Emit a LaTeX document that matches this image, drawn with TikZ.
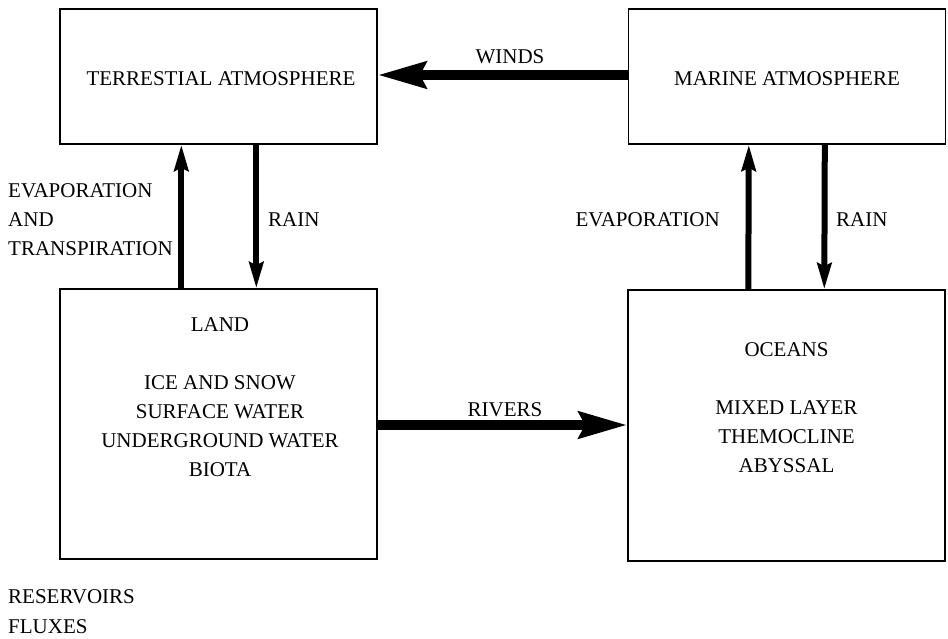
\documentclass[tikz,border=0pt]{standalone}
\usepackage{fontspec}
\setmainfont{Liberation Serif}
\usetikzlibrary{arrows.meta}
\tikzset{
  reservoir/.style={draw, line width=1.4pt, inner sep=0pt},
  lbl/.style={font=\fontsize{21}{29}\selectfont, inner sep=0pt},
  bigflux/.style={line width=10pt, -{Stealth[length=48pt,width=26pt,inset=6pt]}},
  smallflux/.style={line width=6pt, -{Stealth[length=26pt,width=14pt,inset=3pt]}},
}
\begin{document}
\begin{tikzpicture}[x=1pt,y=-1pt]
\useasboundingbox (0,0) rectangle (948,639);

% reservoirs
\node[reservoir, minimum width=317pt, minimum height=135pt] (ta) at (218.5,76.5) {};
\node[reservoir, minimum width=317pt, minimum height=135pt] (ma) at (787,76.5) {};
\node[reservoir, minimum width=317pt, minimum height=270pt] (land) at (218.5,424) {};
\node[reservoir, minimum width=317pt, minimum height=271pt] (oc) at (786.5,425.5) {};

\node[lbl] (tat) at (221,79) {TERRESTIAL ATMOSPHERE};
\node[lbl] (mat) at (787,79) {MARINE ATMOSPHERE};
\node[lbl] (landt) at (220,325) {LAND};
\node[lbl, align=center] (landl) at (220,426.5) {ICE AND SNOW\\SURFACE WATER\\UNDERGROUND WATER\\BIOTA};
\node[lbl] (oct) at (786.5,350) {OCEANS};
\node[lbl, align=center] (ocl) at (786.5,436.5) {MIXED LAYER\\THEMOCLINE\\ABYSSAL};

% fluxes
\draw[bigflux] (ma.west |- 0,75) -- (ta.east |- 0,75);
\node[lbl] (winds) at (510,57) {WINDS};
\draw[bigflux] (land.east |- 0,425) -- (oc.west |- 0,425);
\node[lbl] (rivers) at (505,410) {RIVERS};

\draw[smallflux] ([xshift=122pt]land.north west) -- ([xshift=122pt]ta.south west);
\draw[smallflux] ([xshift=197pt]ta.south west) -- ([xshift=197pt]land.north west);
\draw[smallflux] ([xshift=121pt]oc.north west) -- ([xshift=121pt]ma.south west);
\draw[smallflux] ([xshift=197pt]ma.south west) -- ([xshift=197pt]oc.north west);

\node[lbl, align=left, anchor=west] (evt) at (8,220) {EVAPORATION\\AND\\TRANSPIRATION};
\node[lbl, anchor=west] (rain1) at (268,220) {RAIN};
\node[lbl, anchor=east] (evm) at (720,220) {EVAPORATION};
\node[lbl, anchor=west] (rain2) at (836,220) {RAIN};

% legend
\node[lbl, anchor=west] (res) at (8,597) {RESERVOIRS};
\node[lbl, anchor=west] (flx) at (8,627) {FLUXES};
\end{tikzpicture}
\end{document}
